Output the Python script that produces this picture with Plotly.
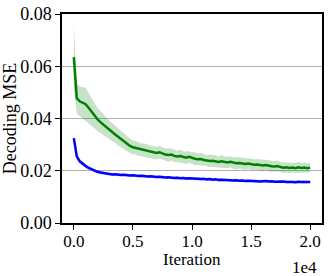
import plotly.graph_objects as go

iterations = [
    0, 250, 500, 750, 1000, 1250, 1500, 1750, 2000, 2250,
    2500, 2750, 3000, 3250, 3500, 3750, 4000, 4250, 4500, 4750,
    5000, 5250, 5500, 5750, 6000, 6250, 6500, 6750, 7000, 7250,
    7500, 7750, 8000, 8250, 8500, 8750, 9000, 9250, 9500, 9750,
    10000, 10250, 10500, 10750, 11000, 11250, 11500, 11750, 12000, 12250,
    12500, 12750, 13000, 13250, 13500, 13750, 14000, 14250, 14500, 14750,
    15000, 15250, 15500, 15750, 16000, 16250, 16500, 16750, 17000, 17250,
    17500, 17750, 18000, 18250, 18500, 18750, 19000, 19250, 19500, 19750,
    20000,
]

green_mean = [
    0.0635, 0.0478, 0.0466, 0.0461, 0.0455, 0.0441, 0.0426, 0.0411, 0.0397, 0.0386,
    0.0376, 0.0366, 0.0356, 0.0347, 0.0339, 0.0330, 0.0321, 0.0313, 0.0303, 0.0295,
    0.0290, 0.0287, 0.0283, 0.0280, 0.0278, 0.0274, 0.0273, 0.0270, 0.0268, 0.0271,
    0.0266, 0.0262, 0.0260, 0.0262, 0.0257, 0.0255, 0.0256, 0.0252, 0.0250, 0.0253,
    0.0248, 0.0246, 0.0244, 0.0245, 0.0241, 0.0239, 0.0237, 0.0238, 0.0236, 0.0234,
    0.0236, 0.0233, 0.0232, 0.0234, 0.0230, 0.0229, 0.0230, 0.0228, 0.0226, 0.0228,
    0.0225, 0.0223, 0.0224, 0.0222, 0.0220, 0.0222, 0.0219, 0.0217, 0.0216, 0.0218,
    0.0214, 0.0212, 0.0213, 0.0211, 0.0212, 0.0210, 0.0213, 0.0211, 0.0212, 0.0210,
    0.0212,
]

green_std = [
    0.0120, 0.0060, 0.0056, 0.0060, 0.0063, 0.0058, 0.0051, 0.0048, 0.0045, 0.0042,
    0.0040, 0.0038, 0.0036, 0.0035, 0.0033, 0.0032, 0.0030, 0.0031, 0.0029, 0.0028,
    0.0027, 0.0025, 0.0027, 0.0024, 0.0026, 0.0025, 0.0023, 0.0026, 0.0024, 0.0025,
    0.0023, 0.0024, 0.0026, 0.0023, 0.0024, 0.0022, 0.0025, 0.0023, 0.0024, 0.0022,
    0.0023, 0.0025, 0.0022, 0.0024, 0.0023, 0.0021, 0.0024, 0.0022, 0.0023, 0.0021,
    0.0024, 0.0022, 0.0023, 0.0021, 0.0022, 0.0024, 0.0021, 0.0022, 0.0023, 0.0021,
    0.0022, 0.0020, 0.0022, 0.0021, 0.0023, 0.0020, 0.0021, 0.0022, 0.0020, 0.0021,
    0.0019, 0.0021, 0.0020, 0.0021, 0.0019, 0.0020, 0.0021, 0.0019, 0.0020, 0.0019,
    0.0019,
]

blue_mean = [
    0.0325, 0.0255, 0.0236, 0.0226, 0.0218, 0.0211, 0.0205, 0.0200, 0.0196, 0.0193,
    0.0191, 0.0189, 0.0188, 0.0186, 0.0187, 0.0185, 0.0184, 0.0185, 0.0183, 0.0182,
    0.0183, 0.0181, 0.0180, 0.0181, 0.0179, 0.0178, 0.0179, 0.0177, 0.0176, 0.0177,
    0.0175, 0.0174, 0.0175, 0.0173, 0.0172, 0.0173, 0.0171, 0.0172, 0.0170, 0.0171,
    0.0170, 0.0169, 0.0170, 0.0168, 0.0169, 0.0167, 0.0168, 0.0166, 0.0167, 0.0165,
    0.0166, 0.0165, 0.0164, 0.0165, 0.0163, 0.0164, 0.0162, 0.0163, 0.0161, 0.0162,
    0.0161, 0.0160, 0.0161, 0.0159, 0.0160, 0.0161, 0.0159, 0.0160, 0.0158, 0.0159,
    0.0158, 0.0159, 0.0157, 0.0158, 0.0157, 0.0156, 0.0158, 0.0157, 0.0156, 0.0157,
    0.0157,
]

blue_std = [
    0.0012, 0.0009, 0.0008, 0.0008, 0.0007, 0.0007, 0.0006, 0.0007, 0.0006, 0.0006,
    0.0005, 0.0006, 0.0005, 0.0006, 0.0005, 0.0006, 0.0005, 0.0005, 0.0006, 0.0005,
    0.0006, 0.0005, 0.0006, 0.0005, 0.0005, 0.0006, 0.0005, 0.0006, 0.0005, 0.0005,
    0.0006, 0.0005, 0.0005, 0.0006, 0.0005, 0.0006, 0.0005, 0.0005, 0.0006, 0.0005,
    0.0005, 0.0006, 0.0005, 0.0006, 0.0005, 0.0005, 0.0006, 0.0005, 0.0005, 0.0006,
    0.0005, 0.0006, 0.0005, 0.0005, 0.0006, 0.0005, 0.0005, 0.0006, 0.0005, 0.0005,
    0.0006, 0.0005, 0.0005, 0.0006, 0.0005, 0.0005, 0.0006, 0.0005, 0.0005, 0.0006,
    0.0005, 0.0005, 0.0006, 0.0005, 0.0005, 0.0006, 0.0005, 0.0005, 0.0006, 0.0005,
    0.0005,
]

y_ticks = [0.00, 0.02, 0.04, 0.06, 0.08]
y_tick_labels = ["0.00", "0.02", "0.04", "0.06", "0.08"]
x_ticks = [0, 5000, 10000, 15000, 20000]
x_tick_labels = ["0.0", "0.5", "1.0", "1.5", "2.0"]

FONT = "Liberation Serif"

fig = go.Figure()


def add_band(mean, std, line_color, fill_color):
    upper = [m + s for m, s in zip(mean, std)]
    lower = [m - s for m, s in zip(mean, std)]
    fig.add_trace(go.Scatter(x=iterations, y=upper, mode="lines",
                             line=dict(width=0), hoverinfo="skip", showlegend=False))
    fig.add_trace(go.Scatter(x=iterations, y=lower, mode="lines",
                             line=dict(width=0), fill="tonexty", fillcolor=fill_color,
                             hoverinfo="skip", showlegend=False))
    fig.add_trace(go.Scatter(x=iterations, y=mean, mode="lines",
                             line=dict(color=line_color, width=2.5), showlegend=False))


add_band(green_mean, green_std, "#008000", "rgba(0,128,0,0.22)")
add_band(blue_mean, blue_std, "#0000ff", "rgba(0,0,255,0.2)")

fig.update_layout(
    width=328, height=276,
    margin=dict(l=60, r=4, t=9, b=53),
    paper_bgcolor="white", plot_bgcolor="white",
    font=dict(family=FONT, size=18, color="black"),
    showlegend=False,
    annotations=[
        dict(text="Iteration", xref="paper", yref="paper", x=0.5, y=0, yshift=-36,
             xanchor="center", yanchor="middle", showarrow=False,
             font=dict(family=FONT, size=17, color="black")),
        dict(text="1e4", xref="paper", yref="paper", x=0.99, y=0, yshift=-44,
             xanchor="right", yanchor="middle", showarrow=False,
             font=dict(family=FONT, size=17, color="black")),
    ],
)
fig.update_xaxes(
    range=[-1000, 21000], tickvals=x_ticks, ticktext=x_tick_labels,
    tickfont=dict(family=FONT, size=17), ticklabeloverflow="allow",
    ticklabelstandoff=-3,
    showgrid=False, zeroline=False, showline=True, linecolor="black", linewidth=1.5,
    mirror=True, ticks="outside", ticklen=5, tickwidth=1, tickcolor="black",
)
fig.update_yaxes(
    range=[0, 0.08], tickvals=y_ticks, ticktext=y_tick_labels,
    tickfont=dict(family=FONT, size=18), ticklabeloverflow="allow",
    showgrid=True, gridcolor="#b0b0b0", gridwidth=1, zeroline=False,
    showline=True, linecolor="black", linewidth=1.5, mirror=True,
    ticks="outside", ticklen=5, tickwidth=1, tickcolor="black",
    title=dict(text="Decoding MSE", font=dict(family=FONT, size=18), standoff=4),
)

fig.write_html("out.html", config={"displayModeBar": False},
               post_script="document.body.style.margin='0';document.body.style.padding='0';")
